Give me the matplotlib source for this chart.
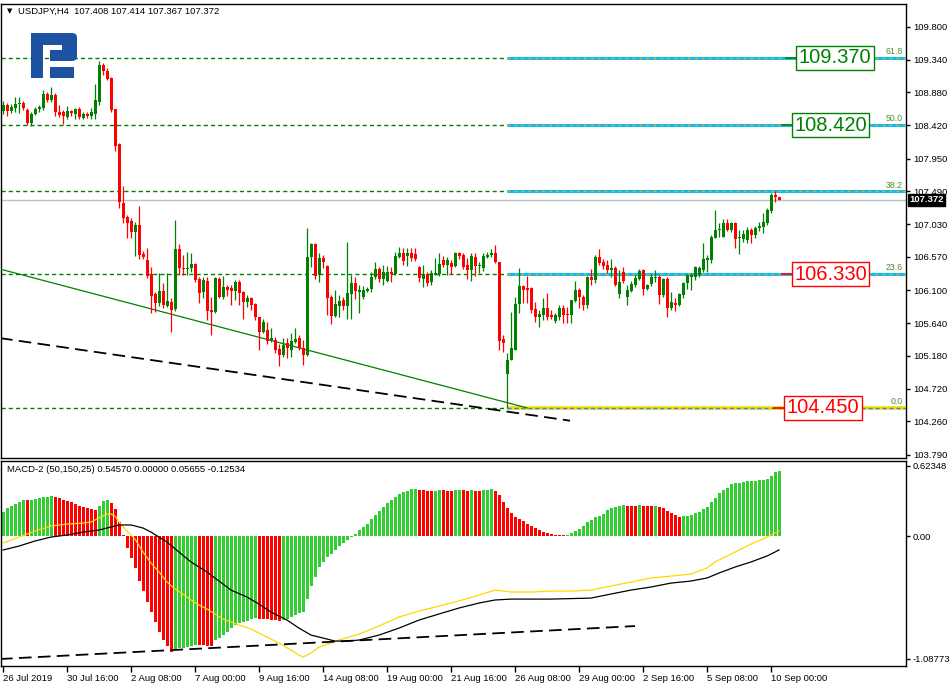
import matplotlib
matplotlib.use('Agg')
import matplotlib.pyplot as plt
import numpy as np
from matplotlib.patches import Rectangle, FancyBboxPatch
from matplotlib.transforms import blended_transform_factory

plt.rcParams['font.family'] = ['Liberation Sans', 'DejaVu Sans']

# ---------------- data ----------------
opens = [
108.62,108.71,108.62,108.66,108.72,108.73,108.64,108.45,108.58,108.65,
108.66,108.86,108.78,108.85,108.61,108.61,108.54,108.62,108.58,108.65,
108.52,108.58,108.55,108.58,108.75,109.27,109.18,109.08,108.65,108.16,
107.33,107.13,107.08,106.92,107.02,106.61,106.53,106.33,106.05,105.92,
106.09,105.88,105.94,105.84,106.68,106.42,106.40,106.42,106.47,106.26,
106.08,106.23,105.83,105.80,106.26,106.01,106.15,106.14,106.09,106.22,
106.08,105.94,105.99,105.91,105.73,105.52,105.55,105.41,105.41,105.28,
105.19,105.36,105.26,105.38,105.43,105.29,105.19,106.57,106.75,106.32,
106.56,106.44,106.01,105.74,105.88,105.97,105.88,106.05,106.21,106.08,
106.01,106.09,106.12,106.29,106.40,106.26,106.23,106.36,106.33,106.57,
106.63,106.58,106.63,106.61,106.43,106.26,106.33,106.22,106.32,106.33,
106.53,106.46,106.49,106.44,106.63,106.60,106.46,106.39,106.57,106.44,
106.42,106.57,106.60,106.63,106.50,105.42,104.93,105.12,105.26,105.91,
106.16,106.14,106.14,105.84,105.73,105.76,105.85,105.76,105.67,105.73,
105.85,105.77,105.76,105.95,106.11,106.01,105.90,106.29,106.25,106.57,
106.50,106.46,106.39,106.42,106.05,106.36,106.01,106.09,106.18,106.26,
106.39,106.12,106.19,106.28,106.29,106.04,106.26,105.85,105.92,105.90,
106.04,106.21,106.29,106.29,106.32,106.39,106.53,106.53,106.84,106.95,
106.85,107.05,106.95,107.05,106.84,106.82,106.81,106.95,106.88,106.98,
106.99,107.05,107.22,107.44,107.408]

highs = [
108.76,108.73,108.72,108.82,108.82,108.76,108.66,108.61,108.68,108.71,
108.92,108.89,108.96,108.87,108.71,108.64,108.69,108.64,108.66,108.68,
108.61,108.61,108.66,109.00,109.32,109.29,109.22,109.10,108.65,108.17,
107.57,107.16,107.12,107.06,107.29,106.66,106.70,106.43,106.08,106.35,
106.21,106.35,105.99,107.09,106.75,106.60,106.64,106.63,106.49,106.29,
106.29,106.29,106.01,106.29,106.29,106.30,106.18,106.18,106.25,106.25,
106.09,106.04,106.01,105.92,105.73,105.70,105.66,105.57,105.45,105.35,
105.43,105.43,105.50,105.57,105.48,105.41,106.98,106.77,106.77,106.63,
106.60,106.46,106.04,106.11,106.04,106.01,106.78,106.32,106.29,106.18,
106.16,106.15,106.36,106.50,106.43,106.46,106.44,106.43,106.64,106.71,
106.70,106.70,106.70,106.70,106.44,106.46,106.36,106.39,106.56,106.63,
106.58,106.57,106.53,106.64,106.64,106.63,106.56,106.63,106.63,106.50,
106.63,106.64,106.68,106.74,106.50,105.48,105.22,105.80,106.01,106.42,
106.18,106.30,106.15,105.94,105.83,105.99,106.06,105.83,105.78,105.90,
105.90,105.87,105.97,106.23,106.14,106.04,106.30,106.40,106.60,106.68,
106.54,106.53,106.54,106.44,106.39,106.43,106.18,106.23,106.32,106.40,
106.40,106.19,106.33,106.39,106.32,106.28,106.29,106.08,105.99,106.06,
106.22,106.33,106.35,106.44,106.44,106.77,106.60,106.88,107.23,107.05,
107.10,107.10,107.06,107.06,106.95,106.95,106.99,106.98,107.01,107.06,
107.19,107.26,107.47,107.49,107.414]

lows = [
108.58,108.55,108.59,108.61,108.59,108.64,108.43,108.41,108.57,108.61,
108.64,108.75,108.75,108.55,108.54,108.44,108.51,108.55,108.51,108.51,
108.51,108.52,108.51,108.51,108.71,109.13,109.06,108.61,108.06,107.26,
107.05,106.84,106.84,106.58,106.54,106.54,106.28,105.78,105.80,105.88,
105.85,105.87,105.52,105.81,106.32,106.32,106.32,106.36,106.22,105.92,
105.99,105.69,105.48,105.78,105.99,105.98,106.02,105.90,105.97,105.90,
105.70,105.87,105.83,105.69,105.26,105.50,105.35,105.38,105.22,105.04,
105.17,105.15,105.17,105.36,105.26,105.05,105.18,106.43,106.26,106.22,
106.42,105.76,105.63,105.73,105.73,105.83,105.70,105.70,105.98,105.78,
105.98,106.08,106.08,106.26,106.22,106.18,106.22,106.22,106.32,106.56,
106.46,106.44,106.51,106.51,106.22,106.15,106.16,106.18,106.32,106.30,
106.43,106.32,106.33,106.43,106.54,106.40,106.26,106.23,106.30,106.35,
106.37,106.56,106.57,106.49,105.26,105.24,104.45,105.12,105.26,105.78,
105.92,105.92,105.78,105.66,105.59,105.69,105.69,105.70,105.64,105.69,
105.64,105.64,105.64,105.94,105.85,105.83,105.85,106.18,106.21,106.46,
106.40,106.35,106.29,106.16,105.99,106.21,105.90,106.08,106.15,106.25,
106.04,106.11,106.16,106.22,105.91,106.01,105.73,105.83,105.81,105.88,
105.99,106.12,106.11,106.25,106.29,106.36,106.36,106.49,106.84,106.85,
106.85,106.94,106.92,106.70,106.61,106.78,106.77,106.77,106.84,106.94,
106.91,107.02,107.19,107.34,107.367]

closes = [
108.71,108.62,108.68,108.72,108.73,108.66,108.45,108.58,108.65,108.68,
108.86,108.78,108.85,108.61,108.57,108.55,108.62,108.59,108.65,108.54,
108.58,108.55,108.61,108.78,109.27,109.18,109.07,108.64,108.13,107.34,
107.12,107.05,106.92,107.02,106.60,106.57,106.30,106.02,105.92,106.09,
105.90,105.95,105.83,106.68,106.42,106.40,106.42,106.47,106.25,106.06,
106.25,105.81,105.80,106.28,106.01,106.15,106.11,106.09,106.22,106.06,
105.94,105.99,105.90,105.73,105.52,105.66,105.39,105.43,105.26,105.19,
105.34,105.29,105.39,105.42,105.29,105.19,106.57,106.75,106.30,106.56,
106.50,105.99,105.74,105.91,105.95,105.88,106.06,106.21,106.09,106.11,
106.11,106.12,106.29,106.40,106.26,106.36,106.36,106.33,106.58,106.63,
106.51,106.63,106.56,106.54,106.28,106.33,106.21,106.35,106.35,106.47,
106.46,106.53,106.43,106.63,106.58,106.43,106.39,106.58,106.44,106.46,
106.58,106.60,106.63,106.50,105.39,105.36,105.12,105.29,105.91,106.16,
106.11,106.11,105.83,105.73,105.77,105.85,105.73,105.73,105.76,105.85,
105.76,105.76,105.97,106.11,106.01,105.90,106.29,106.25,106.57,106.49,
106.44,106.39,106.42,106.18,106.22,106.23,106.11,106.19,106.28,106.37,
106.12,106.18,106.29,106.29,106.04,106.26,105.85,105.94,105.90,106.05,
106.21,106.32,106.32,106.43,106.42,106.54,106.56,106.85,106.95,106.96,
107.05,106.95,107.05,106.82,106.85,106.89,106.95,106.88,106.98,107.01,
107.06,107.23,107.44,107.41,107.372]

macd_hist = [
0.210,0.245,0.265,0.280,0.300,0.322,0.318,0.320,0.325,0.334,
0.345,0.350,0.357,0.345,0.335,0.320,0.310,0.300,0.283,0.270,
0.256,0.247,0.240,0.235,0.270,0.310,0.320,0.290,0.240,0.127,
0.009,-0.103,-0.192,-0.287,-0.399,-0.488,-0.582,-0.671,-0.759,-0.848,
-0.922,-0.972,-1.025,-1.002,-0.996,-0.990,-0.985,-0.975,-0.966,-0.968,
-0.970,-0.972,-0.974,-0.923,-0.907,-0.877,-0.848,-0.818,-0.789,-0.774,
-0.759,-0.750,-0.739,-0.730,-0.735,-0.737,-0.739,-0.745,-0.748,-0.754,
-0.748,-0.733,-0.718,-0.697,-0.680,-0.673,-0.554,-0.443,-0.363,-0.275,
-0.230,-0.190,-0.160,-0.120,-0.090,-0.060,-0.035,-0.010,0.020,0.050,
0.080,0.110,0.150,0.190,0.220,0.260,0.290,0.320,0.350,0.370,
0.390,0.400,0.415,0.420,0.410,0.405,0.400,0.398,0.400,0.410,
0.405,0.403,0.400,0.410,0.412,0.405,0.400,0.405,0.400,0.398,
0.405,0.410,0.415,0.400,0.360,0.300,0.250,0.200,0.170,0.150,
0.130,0.110,0.090,0.070,0.050,0.040,0.030,0.020,0.012,0.008,
0.005,0.010,0.025,0.045,0.065,0.090,0.120,0.140,0.165,0.180,
0.192,0.230,0.245,0.254,0.270,0.277,0.270,0.268,0.266,0.275,
0.268,0.266,0.264,0.266,0.255,0.250,0.225,0.205,0.185,0.170,
0.175,0.180,0.186,0.200,0.210,0.239,0.254,0.304,0.340,0.378,
0.408,0.430,0.458,0.467,0.473,0.480,0.486,0.488,0.490,0.493,
0.496,0.505,0.535,0.564,0.576]

yellow_idx = [0,4,8,12,16,20,22,24,26,27,28,29,31,33,35,37,39,41,43,45,
              47,49,51,53,55,57,59,62,66,69,72,74,75,77,79,84,89,94,99,104,
              109,114,119,123,127,132,137,142,147,152,157,162,167,172,176,178,181,184,187,190,
              192,194]
yellow_val = [-0.062,-0.009,0.044,0.089,0.106,0.115,0.124,0.160,0.195,0.195,
              0.177,0.124,0.044,-0.027,-0.142,-0.239,-0.319,-0.408,-0.470,-0.514,
              -0.567,-0.612,-0.647,-0.691,-0.736,-0.762,-0.789,-0.824,-0.895,-0.949,
              -1.011,-1.055,-1.073,-1.037,-0.984,-0.922,-0.869,-0.798,-0.718,-0.665,
              -0.621,-0.576,-0.523,-0.479,-0.496,-0.496,-0.488,-0.488,-0.479,-0.443,
              -0.408,-0.372,-0.355,-0.337,-0.284,-0.230,-0.177,-0.124,-0.071,-0.027,
              0.009,0.044]

black_idx = [0,4,8,12,16,20,24,27,29,32,35,37,41,44,47,51,54,57,61,64,
             67,71,74,77,80,83,86,89,94,99,104,109,114,119,123,127,137,147,152,157,
             162,167,172,176,179,183,187,191,194]
black_val = [-0.124,-0.089,-0.044,-0.009,0.009,0.035,0.053,0.080,0.098,0.098,
             0.071,0.035,-0.053,-0.142,-0.230,-0.319,-0.399,-0.479,-0.541,-0.603,
             -0.674,-0.745,-0.816,-0.878,-0.904,-0.931,-0.931,-0.922,-0.878,-0.816,
             -0.745,-0.691,-0.638,-0.594,-0.567,-0.559,-0.559,-0.550,-0.514,-0.479,
             -0.452,-0.417,-0.399,-0.372,-0.328,-0.275,-0.230,-0.177,-0.124]

time_labels = ['26 Jul 2019', '30 Jul 16:00', '2 Aug 08:00', '7 Aug 00:00', '9 Aug 16:00',
               '14 Aug 08:00', '19 Aug 00:00', '21 Aug 16:00', '26 Aug 08:00', '29 Aug 00:00',
               '2 Sep 16:00', '5 Sep 08:00', '10 Sep 00:00']
time_label_idx = [0, 16, 32, 48, 64, 80, 96, 112, 128, 144, 160, 176, 192]

price_ticks = [109.800, 109.340, 108.880, 108.420, 107.950, 107.490, 107.030,
               106.570, 106.100, 105.640, 105.180, 104.720, 104.260, 103.790]
macd_ticks = [0.62348, 0.0, -1.08773]
macd_tick_labels = ['0.62348', '0.00', '-1.08773']

fib_levels = [104.45, 106.33, 107.49, 108.42, 109.37]
fib_names = ['0.0', '23.6', '38.2', '50.0', '61.8']
fib_start_idx = 126

box_prices = [109.37, 108.42, 106.33, 104.45]
box_texts = ['109.370', '108.420', '106.330', '104.450']
box_colors = ['#008000', '#008000', '#FF0000', '#FF0000']

green_trend_idx = [-0.75, 131.0]
green_trend_val = [106.40, 104.45]
black_trend_idx = [-0.75, 141.75]
black_trend_val = [105.43, 104.27]
macd_trend_idx = [-0.75, 158.0]
macd_trend_val = [-1.09, -0.798]

last_price = 107.372

# ---------------- figure ----------------
W, H = 953, 688
fig = plt.figure(figsize=(W / 100, H / 100), dpi=100)
fig.patch.set_facecolor('white')

def fx(x):
    return x / W

def fy(y):
    return 1 - y / H

ax = fig.add_axes([fx(1), fy(458), (906 - 1) / W, (458 - 4) / H])
ax2 = fig.add_axes([fx(1), fy(666), (906 - 1) / W, (666 - 461) / H])

XL = (-0.5, 225.75)
for a in (ax, ax2):
    a.set_xlim(*XL)
    for s in a.spines.values():
        s.set_color('black')
        s.set_linewidth(1.0)

ax.set_ylim(103.746, 110.123)
ax2.set_ylim(-1.152, 0.665)

# ---- candles ----
o = np.array(opens); h = np.array(highs); l = np.array(lows); c = np.array(closes)
idx = np.arange(len(c))
up = c >= o
ccol = np.where(up, '#008000', '#FF0000')
ax.vlines(idx, np.minimum(l, np.minimum(o, c)), np.maximum(h, np.maximum(o, c)),
          colors=ccol, linewidth=0.9, zorder=4)
body_lo = np.minimum(o, c)
body_h = np.maximum(np.abs(c - o), 0.014)
ax.bar(idx, body_h, bottom=body_lo, width=0.75, color=ccol, linewidth=0, zorder=4)

# ---- fib levels ----
for lev in fib_levels:
    ax.axhline(lev, color='#008000', lw=1.0, ls=(0, (3, 2.2)), zorder=2)
for lev, name in zip(fib_levels, fib_names):
    if name == '0.0':
        ax.hlines(lev, fib_start_idx, XL[1], color='#FFD700', lw=2.6, zorder=3)
        ax.hlines(lev, fib_start_idx, XL[1], color='#1E90FF', lw=1.0, ls=(0, (3, 2)), zorder=3)
    else:
        ax.hlines(lev, fib_start_idx, XL[1], color='#00BFFF', lw=2.2, zorder=3)
        ax.hlines(lev, fib_start_idx, XL[1], color='#FFA500', lw=1.0, ls=(0, (2, 3)), zorder=3)
    tr = blended_transform_factory(ax.transAxes, ax.transData)
    ax.text(1 - 3 / 905, lev + 0.025, name, transform=tr, ha='right', va='bottom',
            fontsize=6.3, color='#4f8f2f', zorder=5)

# ---- trend lines ----
ax.plot(green_trend_idx, green_trend_val, color='#008000', lw=0.9, zorder=3)
ax.plot(black_trend_idx, black_trend_val, color='black', lw=1.3, ls=(0, (7, 3.5)), zorder=3)

# ---- current price line ----
ax.axhline(last_price, color='#C0C0C0', lw=1.0, zorder=1)
trb = blended_transform_factory(ax.transAxes, ax.transData)
ax.text(1.0035, last_price, '107.372', transform=trb, ha='left', va='center',
        fontsize=6.8, color='white', fontweight='bold', clip_on=False, zorder=10,
        bbox=dict(boxstyle='square,pad=0.15', fc='black', ec='black'))

# ---- price label boxes ----
box_x = [208.0, 206.9, 206.9, 205.0]
for xb, pr, txt, col in zip(box_x, box_prices, box_texts, box_colors):
    t = ax.text(xb, pr, txt, ha='center', va='center', fontsize=14.5, color=col,
                zorder=8, bbox=dict(boxstyle='square,pad=0.12', fc='white', ec=col, lw=1.0))
    ax.hlines(pr, xb - 12.5, xb - 9.0, color=col, lw=1.2, zorder=7)

# ---- axes ticks main ----
ax.set_xticks([])
ax.yaxis.tick_right()
ax.set_yticks(price_ticks)
ax.set_yticklabels(['%.3f' % v for v in price_ticks])
ax.tick_params(axis='y', direction='out', length=3, width=1, pad=2, labelsize=6.8)

# ---- MACD ----
hist = np.array(macd_hist)
hcol = ['#32CD32'] + ['#32CD32' if hist[k] > hist[k - 1] else '#FF0000' for k in range(1, len(hist))]
ax2.bar(np.arange(len(hist)), hist, width=0.75, color=hcol, linewidth=0, zorder=2)
ax2.plot(yellow_idx, yellow_val, color='#FFD700', lw=0.9, zorder=3)
ax2.plot(black_idx, black_val, color='black', lw=0.9, zorder=3)
ax2.plot(macd_trend_idx, macd_trend_val, color='black', lw=1.3, ls=(0, (7, 3.5)), zorder=3)

ax2.yaxis.tick_right()
ax2.set_yticks(macd_ticks)
ax2.set_yticklabels(macd_tick_labels)
ax2.tick_params(axis='y', direction='out', length=3, width=1, pad=2, labelsize=6.8)
ax2.set_xticks(time_label_idx)
ax2.set_xticklabels(time_labels)
ax2.tick_params(axis='x', direction='out', length=4, width=1, pad=2, labelsize=6.8)
for lab in ax2.get_xticklabels():
    lab.set_ha('left')

# ---- header texts ----
fig.text(fx(7), fy(11), '\u25BC', fontsize=5, ha='left', va='center', family=['DejaVu Sans'])
fig.text(fx(18), fy(11), 'USDJPY,H4  107.408 107.414 107.367 107.372',
         fontsize=6.8, ha='left', va='center', color='black')
fig.text(fx(7), fy(470), 'MACD-2 (50,150,25) 0.54570 0.00000 0.05655 -0.12534',
         fontsize=6.8, ha='left', va='center', color='black')

# ---- logo ----
logo_col = '#1d52a0'
def prect(x0, y0, x1, y1):
    return Rectangle((fx(x0), fy(y1)), (x1 - x0) / W, (y1 - y0) / H,
                     transform=fig.transFigure, fc=logo_col, ec='none', zorder=20)
for r in [prect(31, 33, 43, 78), prect(31, 33, 66, 45), prect(50, 50, 70, 61), prect(50, 67, 74, 78)]:
    fig.add_artist(r)
fig.add_artist(FancyBboxPatch((fx(62), fy(61)), 15 / W, 28 / H,
                              boxstyle='round,pad=0,rounding_size=0.006',
                              transform=fig.transFigure, fc=logo_col, ec='none', zorder=20))

fig.savefig('out.png', dpi=100, facecolor='white')
